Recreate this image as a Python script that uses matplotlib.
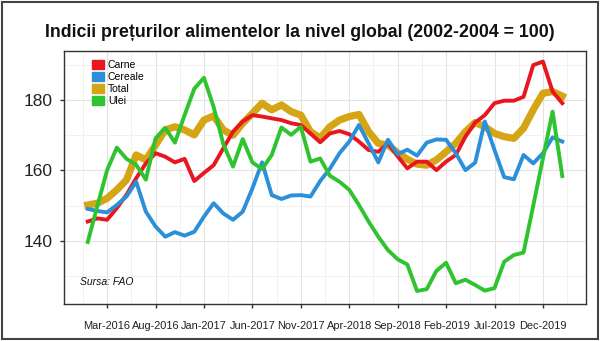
import numpy as np
import pandas as pd
import matplotlib
matplotlib.use("Agg")
from matplotlib import pyplot as plt
from matplotlib.patches import Rectangle

# FAO monthly indices, Jan-2016 .. Feb-2020 (2002-2004 = 100)
months = pd.date_range("2016-01-01", periods=50, freq="MS")

carne = [145.5, 146.4, 146.0, 149.3, 153.1, 157.8, 162.0, 164.9, 163.9, 162.3,
         163.3, 157.0, 159.3, 161.5, 166.3, 171.0, 173.9, 175.7, 175.3, 174.8,
         174.3, 173.4, 172.9, 170.5, 168.0, 170.5, 171.2, 170.3, 168.2, 165.8,
         165.3, 167.7, 164.0, 160.6, 162.5, 162.5, 160.1, 162.5, 164.4, 169.6,
         173.6, 175.7, 179.1, 179.8, 179.8, 180.9, 189.9, 190.9, 182.4, 179.1]

cereale = [149.1, 148.5, 148.1, 150.2, 152.6, 156.8, 148.3, 144.1, 141.2, 142.5,
           141.5, 142.6, 146.9, 150.7, 147.8, 146.0, 148.3, 154.9, 162.3, 153.0,
           151.9, 152.9, 153.0, 152.6, 157.0, 160.5, 164.9, 168.2, 172.9, 167.7,
           162.3, 168.7, 164.6, 165.9, 164.2, 167.9, 168.8, 168.7, 164.9, 160.1,
           162.2, 173.9, 165.8, 158.1, 157.5, 164.4, 162.0, 164.9, 169.4, 168.2]

total = [150.2, 150.7, 152.1, 154.5, 157.3, 164.4, 163.0, 167.2, 171.5, 172.4,
         171.5, 170.1, 174.3, 175.5, 171.5, 170.0, 173.4, 176.2, 179.1, 177.2,
         178.6, 176.7, 175.7, 171.0, 169.2, 172.4, 174.3, 175.3, 175.9, 171.0,
         167.7, 167.2, 165.0, 163.2, 161.8, 161.5, 163.0, 165.3, 167.7, 171.0,
         173.6, 172.4, 170.5, 169.6, 169.1, 172.0, 177.2, 181.9, 182.4, 181.1]

ulei = [139.7, 150.0, 160.1, 166.5, 163.3, 161.6, 157.4, 169.1, 172.1, 167.9,
        175.7, 183.2, 186.3, 178.0, 167.5, 161.1, 168.9, 162.3, 160.4, 164.4,
        172.2, 170.1, 172.4, 162.5, 163.4, 158.5, 156.8, 154.5, 150.2, 145.5,
        141.2, 137.4, 134.8, 133.3, 125.8, 126.3, 131.5, 133.8, 128.0, 129.0,
        127.5, 125.9, 126.6, 134.1, 136.0, 136.7, 150.0, 163.4, 176.7, 158.4]

series = ["Carne", "Cereale", "Total", "Ulei"]
colors = {"Carne": "#E8161F", "Cereale": "#2B8FDA", "Total": "#D5A515", "Ulei": "#2FC42F"}

sans = ["Liberation Sans", "DejaVu Sans"]

x = np.arange(len(months))
tick_pos = x[2::5]
tick_labels = [m.strftime("%b-%Y") for m in months[2::5]]

fig = plt.figure(figsize=(6.0, 3.41), dpi=100)
ax = fig.add_axes([0.1067, 0.1085, 0.87, 0.7419])

# ggplot-like panel
ax.set_xlim(-2.45, 51.45)
ax.set_ylim(122.1, 193.9)
ax.set_xticks(tick_pos)
ax.set_xticklabels(tick_labels, family=sans, fontsize=7.9, color="#222222")
ax.set_xticks(np.append(tick_pos - 2.5, tick_pos[-1] + 2.5), minor=True)
ax.set_yticks([140, 160, 180])
ax.set_yticklabels(["140", "160", "180"], family=sans, fontsize=12.5, color="#222222")
ax.set_yticks([130, 150, 170, 190], minor=True)
ax.grid(which="major", color="#e3e3e3", linewidth=0.8)
ax.grid(which="minor", color="#efefef", linewidth=0.6)
ax.set_axisbelow(True)
ax.tick_params(axis="x", which="major", length=3, width=1.0, color="#333333", pad=9)
ax.tick_params(axis="y", which="major", length=3, width=1.0, color="#333333", pad=5)
ax.tick_params(which="minor", length=0)
for s in ax.spines.values():
    s.set_color("#333333")
    s.set_linewidth(1.0)

ax.plot(x, total, color=colors["Total"], lw=5.2, solid_joinstyle="round", zorder=2)
ax.plot(x, carne, color=colors["Carne"], lw=2.8, solid_joinstyle="round", zorder=3)
ax.plot(x, cereale, color=colors["Cereale"], lw=2.8, solid_joinstyle="round", zorder=4)
ax.plot(x, ulei, color=colors["Ulei"], lw=2.8, solid_joinstyle="round", zorder=5)

handles = [Rectangle((0, 0), 1, 1, color=colors[s]) for s in series]
ax.legend(handles, series, loc="upper left", bbox_to_anchor=(0.044, 0.985),
          frameon=False, borderpad=0, prop={"family": sans, "size": 7.5},
          handlelength=1.1, handleheight=0.9, handletextpad=0.4, labelspacing=0.2)

ax.text(0.03, 0.075, "Sursa: FAO", transform=ax.transAxes, family=sans,
        style="italic", fontsize=7.5, color="#111111")

fig.text(0.5, 0.905, "Indicii prețurilor alimentelor la nivel global (2002-2004 = 100)",
         ha="center", va="center", family=sans, fontweight="bold",
         fontsize=12.8, color="#111111")

# outer frame
fig.patches.append(Rectangle((0.004, 0.006), 0.992, 0.988, transform=fig.transFigure,
                             fill=False, edgecolor="#444444", linewidth=1.5))

fig.savefig("out.png", dpi=100)
